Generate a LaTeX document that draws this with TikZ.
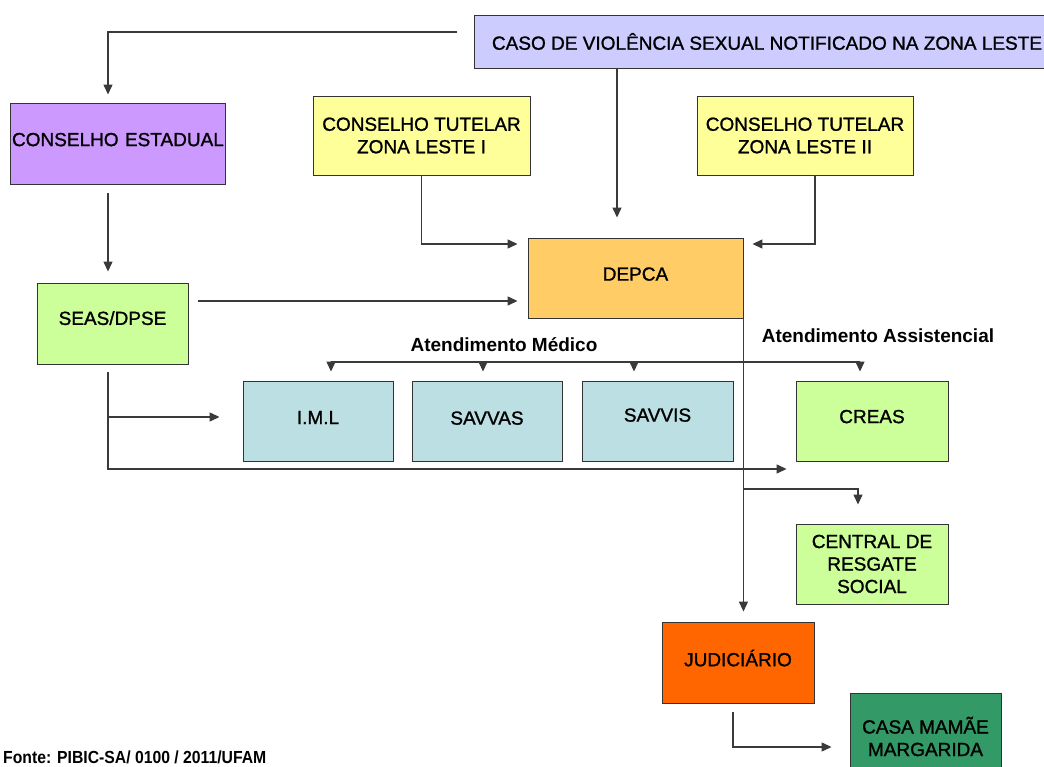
\documentclass[tikz,border=0pt]{standalone}
\usepackage{fontspec}
\usepackage{graphicx}
\setmainfont{Liberation Sans}
\usetikzlibrary{arrows.meta,calc}
\definecolor{casoc}{HTML}{CCCCFF}
\definecolor{estc}{HTML}{CC99FF}
\definecolor{ctc}{HTML}{FFFF99}
\definecolor{depcac}{HTML}{FFCC66}
\definecolor{greenc}{HTML}{CCFF99}
\definecolor{bluec}{HTML}{BBDFE3}
\definecolor{judc}{HTML}{FF6600}
\definecolor{casac}{HTML}{339966}
\definecolor{bordc}{HTML}{333333}
\definecolor{linec}{HTML}{3A3A3A}
\begin{document}
\begin{tikzpicture}[x=1pt,y=-1pt,
  box/.style={draw=bordc, line width=0.9pt, inner sep=0pt, align=center,
              font=\fontsize{19}{22.5}\selectfont\addfontfeature{FakeBold=1.2}, text=black},
  lbl/.style={inner sep=0pt, font=\bfseries\fontsize{19}{22}\selectfont},
  conn/.style={draw=linec, line width=1.3pt},
  arr/.style={conn, -{Triangle[length=10pt,width=9pt]}}]
\fill[white] (0,0) rectangle (1044,767);
\useasboundingbox (0,0) rectangle (1044,767);

% boxes
\node[box, fill=casoc, minimum width=586pt, minimum height=53pt] (caso) at (767,41.5)
  {CASO DE VIOLÊNCIA SEXUAL NOTIFICADO NA ZONA LESTE};
\node[box, fill=estc, minimum width=215pt, minimum height=81pt, text width=211pt, align=left]
  (consest) at (117.5,143.5) {\raisebox{8pt}{CONSELHO ESTADUAL}};
\node[box, fill=ctc, minimum width=217pt, minimum height=79pt] (ct1) at (421.5,135.5)
  {CONSELHO TUTELAR\\ZONA LESTE I};
\node[box, fill=ctc, minimum width=216pt, minimum height=79pt] (ct2) at (805,135.5)
  {CONSELHO TUTELAR\\ZONA LESTE II};
\node[box, fill=depcac, minimum width=215pt, minimum height=80pt] (depca) at (635.5,278)
  {\raisebox{8pt}{DEPCA}};
\node[box, fill=greenc, minimum width=151pt, minimum height=81pt] (seas) at (112.5,323.5)
  {\raisebox{11pt}{SEAS/DPSE}};
\node[box, fill=bluec, minimum width=150pt, minimum height=80pt] (iml) at (318,421)
  {\raisebox{7pt}{I.M.L}};
\node[box, fill=bluec, minimum width=150pt, minimum height=80pt] (savvas) at (487,421)
  {\raisebox{6pt}{SAVVAS}};
\node[box, fill=bluec, minimum width=151pt, minimum height=80pt] (savvis) at (657.5,421)
  {\raisebox{12pt}{SAVVIS}};
\node[box, fill=greenc, minimum width=152pt, minimum height=80pt] (creas) at (872,421)
  {\raisebox{9pt}{CREAS}};
\node[box, fill=greenc, minimum width=152pt, minimum height=80pt] (central) at (872,564)
  {CENTRAL DE\\RESGATE\\SOCIAL};
\node[box, fill=judc, minimum width=152pt, minimum height=81pt] (jud) at (738,662.5)
  {\raisebox{9pt}{JUDICIÁRIO}};
\node[box, fill=casac, minimum width=151pt, minimum height=87pt] (casa) at (925.5,736.5)
  {CASA MAMÃE\\MARGARIDA};

% labels
\node[lbl] (lmed) at (504,345) {Atendimento Médico};
\node[lbl] (lass) at (878,336) {Atendimento Assistencial};
\node[inner sep=0pt, anchor=west, font=\bfseries\fontsize{17.5}{20}\selectfont] (fonte) at (3,757)
  {\scalebox{0.9}[1]{Fonte: PIBIC-SA/ 0100 / 2011/UFAM}};

% connectors
\coordinate (c0) at (457,32);
\draw[arr, shorten >=8pt] (c0) -| ($(consest.north)+(-9.5,0)$);
\draw[arr, shorten <=9pt, shorten >=11pt] ($(consest.south)+(-9.5,0)$) -- ($(seas.north)+(-4.5,0)$);

\coordinate (xa) at (617,0);
\draw[arr, shorten >=20pt] (caso.south -| xa) -- (depca.north -| xa);

\coordinate (yt) at (0,244);
\draw[arr, shorten >=10pt] (ct1.south) |- (depca.west |- yt);
\draw[arr, shorten >=9pt] ($(ct2.south)+(10,0)$) |- (depca.east |- yt);

\coordinate (ys) at (0,301);
\draw[arr, shorten <=10pt, shorten >=10pt] (seas.east |- ys) -- (depca.west |- ys);

\coordinate (sb) at ($(seas.south)+(-4.5,0)$);
\coordinate (yb) at (0,469);
\coordinate (ym) at (0,417);
\draw[arr, shorten <=8pt, shorten >=9pt] (sb) |- (creas.west |- yb);
\draw[arr, shorten >=23pt] (sb |- ym) -- (iml.west |- ym);

\draw[arr, shorten >=10pt] (depca.south east) -- (depca.south east |- jud.north);
\coordinate (yc) at (0,489);
\draw[arr, shorten >=19pt] (depca.south east |- yc) -| ($(central.north)+(-14,0)$);

\coordinate (a1) at (331,362);
\coordinate (a2) at (483,362);
\coordinate (a3) at (634,362);
\coordinate (a4) at (860,362);
\draw[arr, shorten >=9pt] (a2) -| (iml.north -| a1);
\draw[arr, shorten >=9pt] (a2) -| (creas.north -| a4);
\draw[arr, shorten >=9pt] (a2) -- (savvas.north -| a2);
\draw[arr, shorten >=9pt] (a3) -- (savvis.north -| a3);

\coordinate (yj) at (0,747);
\draw[arr, shorten <=9pt, shorten >=18pt] ($(jud.south)+(-5,0)$) |- (casa.west |- yj);
\end{tikzpicture}
\end{document}
